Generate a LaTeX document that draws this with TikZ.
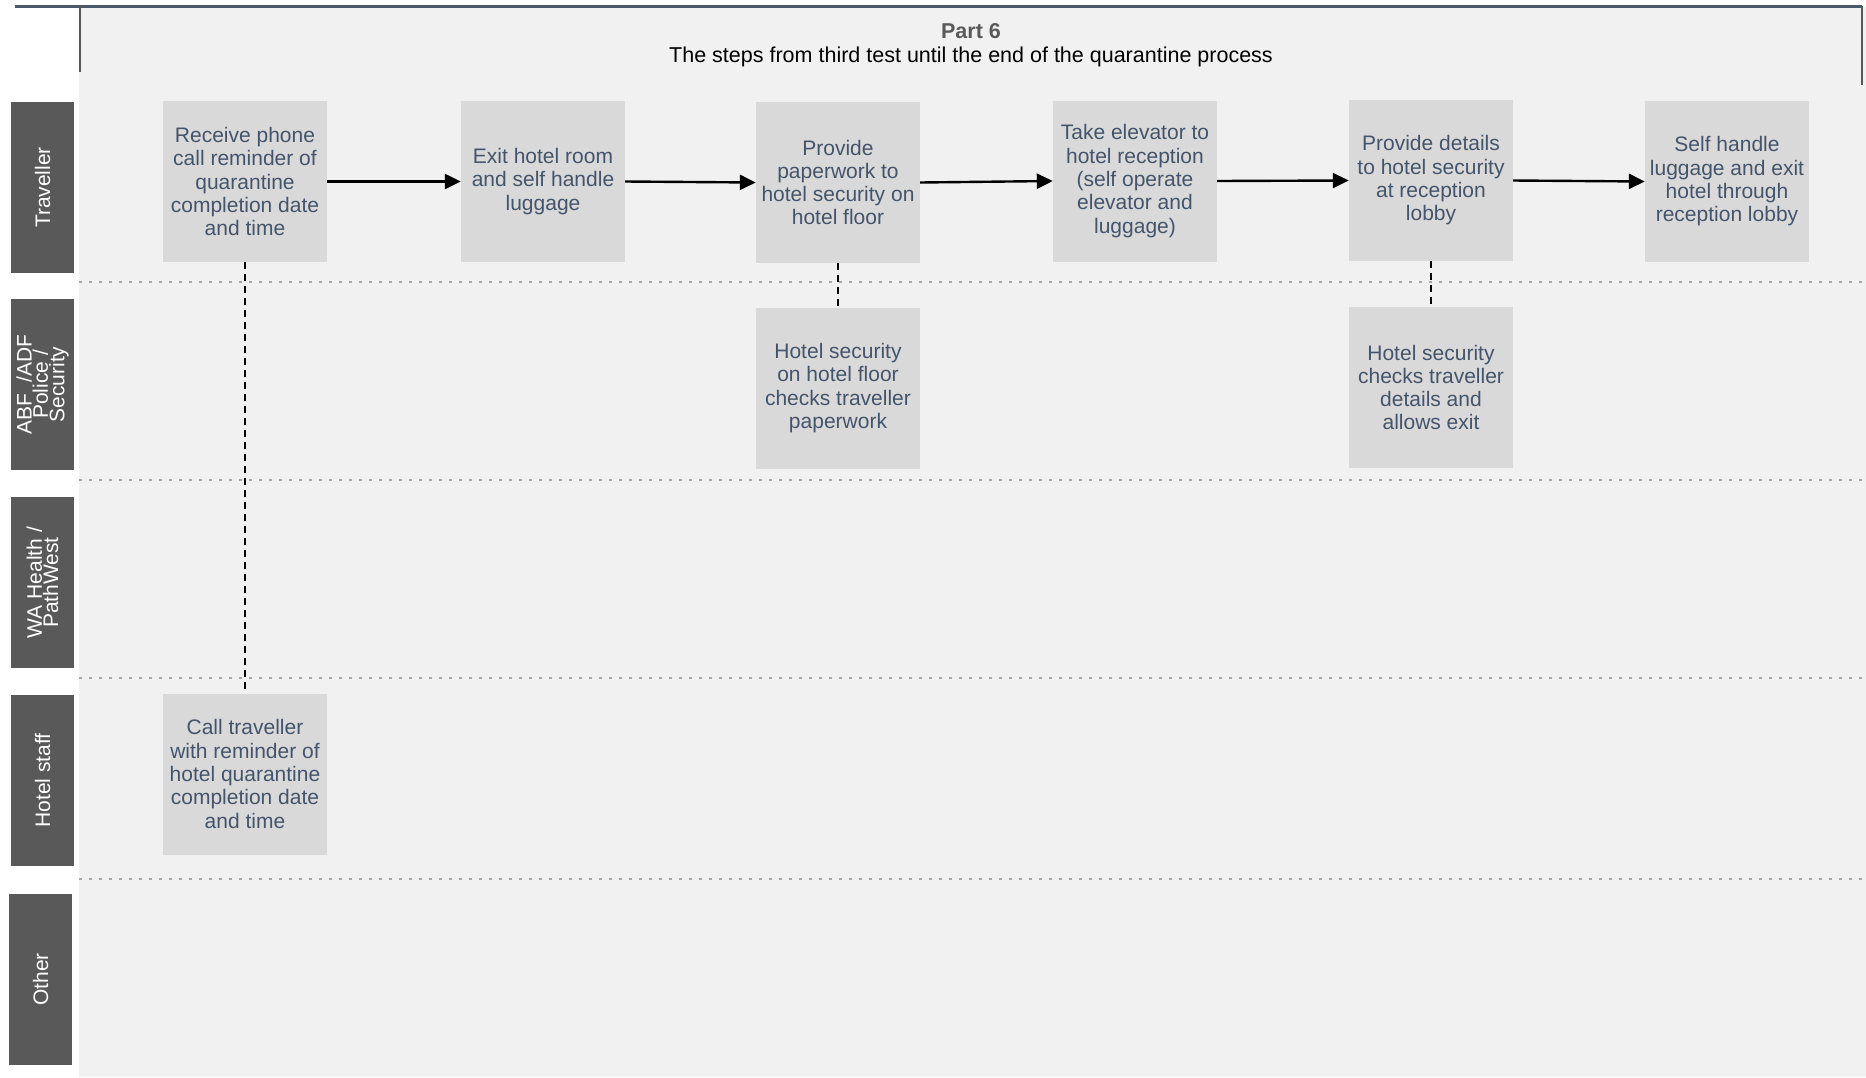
\documentclass[tikz,border=0pt]{standalone}
\usepackage{fontspec}
\setmainfont{Liberation Sans}
\usetikzlibrary{arrows.meta}
\definecolor{bgc}{HTML}{F1F1F1}
\definecolor{boxc}{HTML}{D9D9D9}
\definecolor{txtc}{HTML}{44546A}
\definecolor{lanec}{HTML}{595959}
\definecolor{sepc}{HTML}{A6A6A6}
\definecolor{topc}{HTML}{4A5968}
\tikzset{
  stepbox/.style={fill=boxc, draw=none, minimum width=164pt, minimum height=161pt, inner sep=0pt,
    align=center, text=txtc, font=\fontsize{21}{23.3}\selectfont},
  lanebox/.style={fill=lanec, draw=none, rotate=90, minimum width=171pt, minimum height=63pt, inner sep=0pt,
    align=center, text=white, font=\fontsize{21}{23.3}\selectfont},
  flow/.style={line width=2.4pt, -{Triangle[length=16pt,width=15pt]}},
  link/.style={line width=1.8pt, dash pattern=on 7pt off 5pt},
  sep/.style={sepc, line width=2.5pt, dash pattern=on 2.5pt off 7.5pt},
}
\begin{document}
\begin{tikzpicture}[x=1pt,y=-1pt]
\useasboundingbox (0,0) rectangle (1866,1077);
\fill[white] (0,0) rectangle (1866,1077);
\fill[bgc] (79,7) rectangle (1866,1077);
% frame
\draw[topc, line width=3pt] (15,6) -- (1862,6);
\draw[lanec, line width=2pt] (80,6) -- (80,72);
\draw[lanec, line width=2pt] (1862,6) -- (1862,85);
% title
\node[font=\fontsize{21.5}{23}\selectfont\bfseries, text=lanec] (title) at (971,31) {Part 6};
\node[font=\fontsize{21.5}{23}\selectfont, text=black] (subtitle) at (971,57) {The steps from third test until the end of the quarantine process};
% separators
\coordinate (s1a) at (79,282); \coordinate (s1b) at (1866,282);
\coordinate (s2a) at (79,480); \coordinate (s2b) at (1866,480);
\coordinate (s3a) at (79,678); \coordinate (s3b) at (1866,678);
\coordinate (s4a) at (79,879); \coordinate (s4b) at (1866,879);
\draw[sep] (s1a) -- (s1b);
\draw[sep] (s2a) -- (s2b);
\draw[sep] (s3a) -- (s3b);
\draw[sep] (s4a) -- (s4b);
% lanes
\node[lanebox] (l1) at (42.5,187.5) {Traveller};
\node[lanebox, font=\fontsize{21}{12}\selectfont] (l2) at (42.5,384.5) {ABF \ /ADF\\Police /\\Security};
\node[lanebox, font=\fontsize{21}{12}\selectfont] (l3) at (42.5,582.5) {WA Health /\\PathWest};
\node[lanebox] (l4) at (42.5,780.5) {Hotel staff};
\node[lanebox] (l5) at (40.5,979.5) {Other};
% steps
\node[stepbox] (b1) at (245,181.5) {Receive phone\\call reminder of\\quarantine\\completion date\\and time};
\node[stepbox] (b2) at (543,181.5) {Exit hotel room\\and self handle\\luggage};
\node[stepbox] (b3) at (838,182.5) {Provide\\paperwork to\\hotel security on\\hotel floor};
\node[stepbox] (b4) at (1135,181) {Take elevator to\\hotel reception\\(self operate\\elevator and\\luggage)};
\node[stepbox] (b5) at (1431,180.5) {Provide details\\to hotel security\\at reception\\lobby};
\node[stepbox] (b6) at (1727,181.5) {Self handle\\luggage and exit\\hotel through\\reception lobby};
\node[stepbox] (s1) at (838,388) {Hotel security\\on hotel floor\\checks traveller\\paperwork};
\node[stepbox] (s2) at (1431,387.5) {Hotel security\\checks traveller\\details and\\allows exit};
\node[stepbox] (h1) at (245,774) {Call traveller\\with reminder of\\hotel quarantine\\completion date\\and time};
% flows
\draw[flow] (b1.east) -- (b2.west);
\draw[flow] (b2.east) -- (b3.west);
\draw[flow] (b3.east) -- (b4.west);
\draw[flow] (b4.east) -- (b5.west);
\draw[flow] (b5.east) -- (b6.west);
% links
\draw[link] (b1.south) -- (h1.north);
\draw[link] (b3.south) -- (s1.north);
\draw[link] (b5.south) -- (s2.north);
\end{tikzpicture}
\end{document}
